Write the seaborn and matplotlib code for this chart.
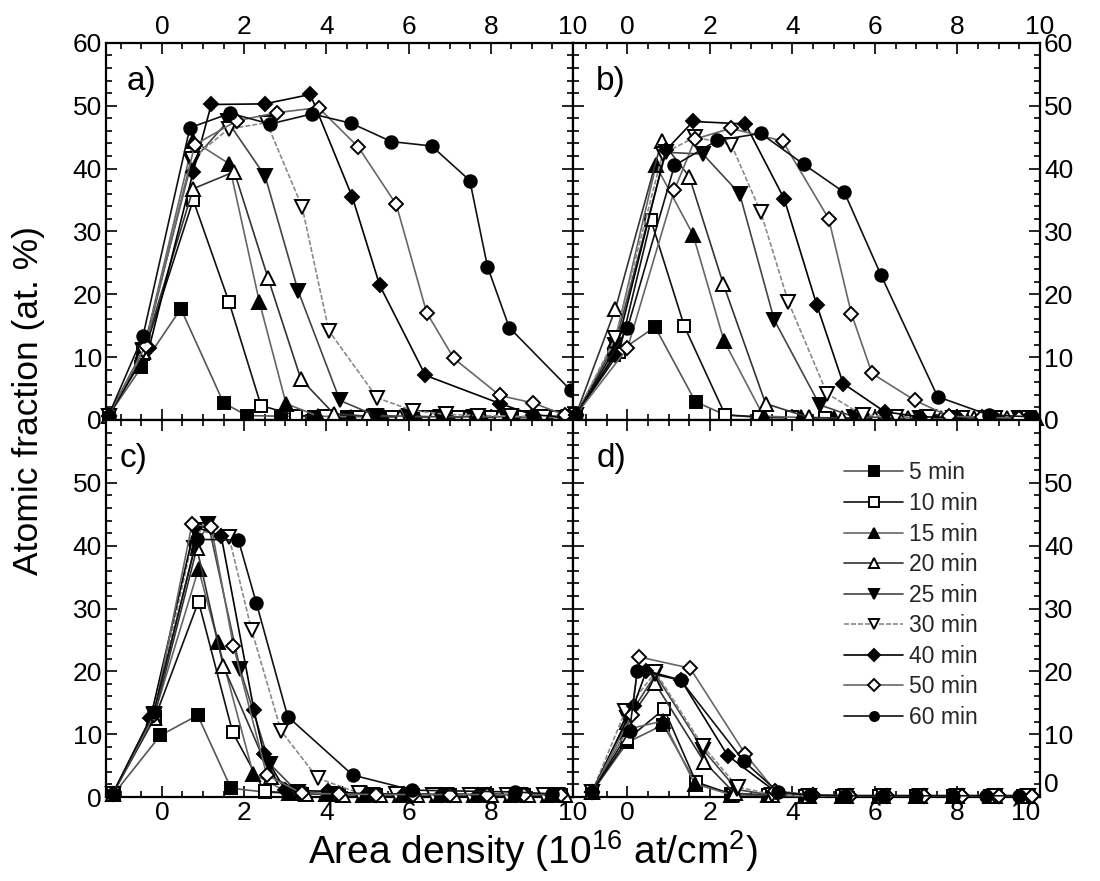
import numpy as np
import pandas as pd
import matplotlib
matplotlib.use("Agg")
import matplotlib.pyplot as plt
from matplotlib import font_manager as fm
from matplotlib.ticker import MultipleLocator
import seaborn as sns

sns.set_theme(style="white")

def pick_font():
    for name in ["Liberation Sans Narrow", "Liberation Sans"]:
        try:
            fm.findfont(fm.FontProperties(family=name), fallback_to_default=False)
            return name
        except Exception:
            pass
    return "DejaVu Sans"

FONT = pick_font()
plt.rcParams["font.family"] = [FONT, "DejaVu Sans"]
plt.rcParams["mathtext.fontset"] = "custom"
plt.rcParams["mathtext.rm"] = FONT

SERIES = ["5 min", "10 min", "15 min", "20 min", "25 min", "30 min", "40 min", "50 min", "60 min"]

# ---------------- data ----------------
PANEL_A = {
    "5 min":  ([-1.3, -0.5, 0.46, 1.5, 2.07, 2.9, 3.7, 4.5, 5.3, 6.1, 6.9, 7.7, 8.5, 9.3, 9.9],
               [0.7, 8.4, 17.7, 2.7, 0.7, 0.6, 0.5, 0.5, 0.4, 0.4, 0.4, 0.4, 0.4, 0.4, 0.4]),
    "10 min": ([-1.3, -0.45, 0.76, 1.63, 2.41, 3.26, 4.0, 4.8, 5.6, 6.4, 7.2, 8.0, 8.8, 9.6],
               [0.7, 10.5, 35.0, 18.8, 2.3, 0.7, 0.6, 0.5, 0.5, 0.5, 0.4, 0.4, 0.4, 0.4]),
    "15 min": ([-1.3, -0.45, 0.76, 1.63, 2.37, 3.02, 3.8, 4.6, 5.4, 6.2, 7.0, 7.8, 8.6, 9.4],
               [0.7, 11.0, 44.4, 40.8, 18.8, 2.6, 0.6, 0.5, 0.5, 0.5, 0.4, 0.4, 0.4, 0.4]),
    "20 min": ([-1.3, -0.45, 0.76, 1.76, 2.58, 3.38, 4.18, 5.0, 5.8, 6.6, 7.4, 8.2, 9.0, 9.8],
               [0.7, 10.8, 36.8, 39.5, 22.6, 6.5, 1.0, 0.6, 0.5, 0.5, 0.5, 0.4, 0.4, 0.4]),
    "25 min": ([-1.3, -0.45, 0.72, 1.6, 2.51, 3.31, 4.33, 5.2, 6.0, 6.8, 7.6, 8.4, 9.2, 9.9],
               [0.7, 11.2, 41.0, 47.5, 38.8, 20.6, 3.1, 0.7, 0.6, 0.5, 0.5, 0.5, 0.4, 0.4]),
    "30 min": ([-1.3, -0.45, 0.72, 1.62, 2.55, 3.41, 4.06, 5.24, 6.1, 6.9, 7.7, 8.5, 9.3, 9.9],
               [0.7, 11.0, 41.5, 46.3, 47.3, 33.9, 14.2, 3.5, 1.5, 0.9, 0.7, 0.6, 0.5, 0.5]),
    "40 min": ([-1.3, -0.31, 0.76, 1.2, 2.5, 3.61, 4.63, 5.3, 6.41, 8.23, 9.03, 9.8],
               [0.7, 11.5, 39.5, 50.2, 50.3, 51.8, 35.5, 21.4, 7.1, 2.6, 0.8, 0.5]),
    "50 min": ([-1.3, -0.4, 0.8, 1.82, 2.8, 3.81, 4.78, 5.7, 6.44, 7.1, 8.22, 9.03, 9.8],
               [0.7, 11.8, 43.8, 47.6, 48.9, 49.7, 43.4, 34.3, 17.1, 9.8, 3.9, 2.7, 0.8]),
    "60 min": ([-1.3, -0.46, 0.68, 1.66, 2.63, 3.65, 4.61, 5.58, 6.56, 7.49, 7.92, 8.45, 9.95],
               [0.7, 13.4, 46.5, 48.8, 47.1, 48.7, 47.2, 44.3, 43.6, 38.1, 24.4, 14.7, 4.7]),
}

PANEL_B = {
    "5 min":  ([-1.25, -0.33, 0.67, 1.65, 2.37, 3.2, 4.0, 4.8, 5.6, 6.4, 7.2, 8.0, 8.8, 9.6],
               [0.8, 10.3, 14.8, 2.9, 0.8, 0.4, 0.3, 0.3, 0.3, 0.3, 0.3, 0.3, 0.3, 0.3]),
    "10 min": ([-1.25, -0.2, 0.57, 1.38, 2.37, 3.2, 4.0, 4.8, 5.6, 6.4, 7.2, 8.0, 8.8, 9.6],
               [0.8, 10.8, 31.8, 14.9, 0.8, 0.5, 0.4, 0.3, 0.3, 0.3, 0.3, 0.3, 0.3, 0.3]),
    "15 min": ([-1.25, -0.3, 0.69, 1.59, 2.34, 3.3, 4.2, 5.0, 5.8, 6.6, 7.4, 8.2, 9.0, 9.8],
               [0.8, 12.6, 40.5, 29.5, 12.6, 0.6, 0.4, 0.3, 0.3, 0.3, 0.3, 0.3, 0.3, 0.3]),
    "20 min": ([-1.25, -0.29, 0.83, 1.5, 2.32, 3.35, 4.4, 5.2, 6.0, 6.8, 7.6, 8.4, 9.2, 9.9],
               [0.8, 17.7, 44.4, 38.7, 21.7, 2.6, 0.4, 0.3, 0.3, 0.3, 0.3, 0.3, 0.3, 0.3]),
    "25 min": ([-1.25, -0.3, 0.93, 1.83, 2.72, 3.56, 4.66, 5.5, 6.3, 7.1, 7.9, 8.7, 9.5],
               [0.8, 12.0, 42.6, 42.3, 36.0, 15.9, 2.4, 0.5, 0.4, 0.3, 0.3, 0.3, 0.3]),
    "30 min": ([-1.25, -0.3, 0.85, 1.63, 2.52, 3.23, 3.9, 4.84, 5.7, 6.5, 7.3, 8.1, 8.9, 9.7],
               [0.8, 13.0, 42.3, 45.0, 43.8, 33.1, 18.8, 4.2, 0.8, 0.5, 0.4, 0.3, 0.3, 0.3]),
    "40 min": ([-1.25, -0.31, 0.93, 1.59, 2.86, 3.8, 4.59, 5.23, 6.24, 7.1, 8.0, 8.9, 9.7],
               [0.8, 10.3, 42.9, 47.5, 47.1, 35.2, 18.3, 5.8, 1.3, 0.5, 0.4, 0.3, 0.3]),
    "50 min": ([-1.25, 0.0, 1.14, 1.64, 2.5, 3.76, 4.88, 5.43, 5.93, 6.97, 7.8, 8.6, 9.5],
               [0.8, 11.4, 36.6, 44.7, 46.4, 44.4, 32.0, 16.9, 7.4, 3.1, 0.6, 0.4, 0.3]),
    "60 min": ([-1.25, 0.0, 1.14, 2.18, 3.23, 4.27, 5.26, 6.15, 7.52, 8.76, 9.8],
               [0.8, 14.6, 40.5, 44.5, 45.6, 40.7, 36.2, 23.0, 3.7, 0.8, 0.5]),
}

PANEL_C = {
    "5 min":  ([-1.17, -0.04, 0.87, 1.68, 2.5, 3.4, 4.3, 5.2, 6.1, 7.0, 7.9, 8.8, 9.7],
               [0.5, 9.8, 13.0, 1.4, 0.8, 0.5, 0.4, 0.4, 0.4, 0.4, 0.4, 0.4, 0.4]),
    "10 min": ([-1.2, -0.16, 0.89, 1.72, 2.5, 3.4, 4.3, 5.2, 6.1, 7.0, 7.9, 8.8, 9.7],
               [0.5, 12.8, 31.1, 10.3, 0.9, 0.5, 0.4, 0.4, 0.4, 0.4, 0.4, 0.4, 0.4]),
    "15 min": ([-1.2, -0.2, 0.89, 1.36, 2.22, 3.1, 4.0, 4.9, 5.8, 6.7, 7.6, 8.5, 9.4],
               [0.5, 12.8, 36.3, 24.7, 3.7, 0.6, 0.5, 0.4, 0.4, 0.4, 0.4, 0.4, 0.4]),
    "20 min": ([-1.2, -0.2, 0.85, 1.49, 2.66, 3.5, 4.4, 5.3, 6.2, 7.1, 8.0, 8.9, 9.8],
               [0.5, 12.5, 39.6, 20.9, 3.2, 0.5, 0.4, 0.4, 0.4, 0.4, 0.4, 0.4, 0.4]),
    "25 min": ([-1.2, -0.2, 0.79, 1.13, 1.9, 2.62, 3.3, 4.2, 5.1, 6.0, 6.9, 7.8, 8.7, 9.6],
               [0.5, 13.0, 39.7, 43.4, 20.4, 5.3, 0.8, 0.5, 0.4, 0.4, 0.4, 0.4, 0.4, 0.4]),
    "30 min": ([-1.2, -0.2, 0.8, 1.63, 2.18, 2.9, 3.79, 4.8, 5.7, 6.6, 7.5, 8.4, 9.3],
               [0.5, 13.2, 42.5, 41.4, 26.6, 10.5, 3.0, 0.6, 0.5, 0.4, 0.4, 0.4, 0.4]),
    "40 min": ([-1.2, -0.28, 0.8, 1.44, 2.24, 2.48, 3.0, 4.03, 5.0, 5.9, 6.8, 7.7, 8.6, 9.5],
               [0.5, 12.5, 43.0, 41.6, 13.8, 6.8, 1.1, 0.9, 0.5, 0.5, 0.4, 0.4, 0.4, 0.4]),
    "50 min": ([-1.2, -0.2, 0.73, 1.2, 1.74, 2.55, 3.4, 4.3, 5.2, 6.1, 7.0, 7.9, 8.8, 9.7],
               [0.5, 13.0, 43.4, 43.0, 24.0, 3.5, 0.6, 0.5, 0.4, 0.4, 0.4, 0.4, 0.4, 0.4]),
    "60 min": ([-1.2, -0.2, 0.85, 1.86, 2.3, 3.06, 4.64, 6.09, 8.6, 9.5],
               [0.5, 13.5, 41.0, 40.9, 30.8, 12.8, 3.5, 1.1, 0.8, 0.5]),
}

PANEL_D = {
    "5 min":  ([-0.86, 0.0, 0.87, 1.66, 2.5, 3.4, 4.3, 5.2, 6.1, 7.0, 7.9, 8.8, 9.6],
               [0.8, 8.7, 11.5, 2.2, 0.5, 0.3, 0.2, 0.2, 0.2, 0.2, 0.2, 0.2, 0.2]),
    "10 min": ([-0.86, 0.0, 0.89, 1.66, 2.55, 3.4, 4.3, 5.2, 6.1, 7.0, 7.9, 8.8, 9.6],
               [0.8, 9.2, 14.0, 2.4, 0.4, 0.3, 0.2, 0.2, 0.2, 0.2, 0.2, 0.2, 0.2]),
    "15 min": ([-0.86, 0.0, 0.87, 1.63, 2.5, 3.4, 4.3, 5.2, 6.1, 7.0, 7.9, 8.8, 9.6],
               [0.8, 10.8, 12.1, 2.1, 0.4, 0.3, 0.2, 0.2, 0.2, 0.2, 0.2, 0.2, 0.2]),
    "20 min": ([-0.86, 0.0, 0.66, 1.86, 2.6, 3.5, 4.4, 5.3, 6.2, 7.1, 8.0, 8.9, 9.7],
               [0.8, 12.0, 18.2, 5.6, 0.6, 0.3, 0.2, 0.2, 0.2, 0.2, 0.2, 0.2, 0.2]),
    "25 min": ([-0.86, 0.0, 0.68, 1.84, 2.65, 3.5, 4.4, 5.3, 6.2, 7.1, 8.0, 8.9, 9.7],
               [0.8, 12.5, 19.5, 7.5, 1.2, 0.3, 0.2, 0.2, 0.2, 0.2, 0.2, 0.2, 0.2]),
    "30 min": ([-0.86, -0.05, 0.68, 1.82, 2.67, 3.5, 4.4, 5.3, 6.2, 7.1, 8.0, 8.9, 9.7],
               [0.8, 13.7, 19.9, 8.2, 1.6, 0.4, 0.2, 0.2, 0.2, 0.2, 0.2, 0.2, 0.2]),
    "40 min": ([-0.86, 0.15, 0.46, 1.3, 2.43, 3.6, 4.5, 5.4, 6.3, 7.2, 8.1, 9.0, 9.8],
               [0.8, 14.5, 20.1, 18.6, 6.6, 0.8, 0.3, 0.2, 0.2, 0.2, 0.2, 0.2, 0.2]),
    "50 min": ([-0.86, 0.1, 0.28, 1.52, 2.85, 3.58, 4.5, 5.4, 6.3, 7.2, 8.1, 9.0, 9.8],
               [0.8, 13.0, 22.3, 20.5, 6.9, 1.0, 0.3, 0.2, 0.2, 0.2, 0.2, 0.2, 0.2]),
    "60 min": ([-0.86, 0.05, 0.24, 1.29, 2.82, 3.65, 4.43, 5.28, 6.2, 7.0, 7.9, 8.7, 9.5],
               [0.8, 10.5, 20.1, 18.6, 5.7, 0.8, 0.3, 0.2, 0.2, 0.2, 0.2, 0.2, 0.2]),
}

X_TICKS = [0, 2, 4, 6, 8, 10]
Y_TICKS_TOP = [0, 10, 20, 30, 40, 50, 60]
Y_TICKS_BOTTOM = [0, 10, 20, 30, 40, 50]

# ---------------- styles ----------------
STYLE = {
    "5 min":  dict(marker="s", mfc="black", color="#555555", ls="-"),
    "10 min": dict(marker="s", mfc="white", color="#111111", ls="-"),
    "15 min": dict(marker="^", mfc="black", color="#666666", ls="-"),
    "20 min": dict(marker="^", mfc="white", color="#333333", ls="-"),
    "25 min": dict(marker="v", mfc="black", color="#444444", ls="-"),
    "30 min": dict(marker="v", mfc="white", color="#8a8a8a", ls=(0, (3, 1.2))),
    "40 min": dict(marker="D", mfc="black", color="#000000", ls="-"),
    "50 min": dict(marker="D", mfc="white", color="#666666", ls="-"),
    "60 min": dict(marker="o", mfc="black", color="#111111", ls="-"),
}
MSIZE = {"s": 8.5, "^": 9.5, "v": 9.5, "D": 7.5, "o": 9}

fig = plt.figure(figsize=(11.0, 8.81), dpi=100)
L0, W = 0.0964, 0.4245
B0, H = 0.0953, 0.428
axes = {
    "a": fig.add_axes([L0, B0 + H, W, H]),
    "b": fig.add_axes([L0 + W, B0 + H, W, H]),
    "c": fig.add_axes([L0, B0, W, H]),
    "d": fig.add_axes([L0 + W, B0, W, H]),
}
panels = {"a": PANEL_A, "b": PANEL_B, "c": PANEL_C, "d": PANEL_D}

for key, ax in axes.items():
    data = panels[key]
    for s in SERIES:
        xs, ys = data[s]
        df = pd.DataFrame({"x": xs, "y": ys})
        st = STYLE[s]
        sns.lineplot(data=df, x="x", y="y", ax=ax, sort=False, estimator=None,
                     color=st["color"], linestyle=st["ls"], linewidth=1.2,
                     marker=st["marker"], markersize=MSIZE[st["marker"]],
                     markerfacecolor=st["mfc"], markeredgecolor="black",
                     markeredgewidth=1.4, label=s, legend=False, clip_on=False,
                     zorder=3)
    right = key in ("b", "d")
    top = key in ("a", "b")
    ax.set_xlim(-1.32 if right else -1.36, 10.0)
    ax.set_ylim(0, 60)
    ax.set_xlabel("")
    ax.set_ylabel("")
    ax.xaxis.set_minor_locator(MultipleLocator(0.5))
    ax.yaxis.set_minor_locator(MultipleLocator(2))
    ax.set_xticks(X_TICKS)
    ax.set_yticks(Y_TICKS_TOP)
    ax.set_xticklabels([str(v) for v in X_TICKS])
    if top:
        ax.set_yticklabels([str(v) for v in Y_TICKS_TOP])
    else:
        ax.set_yticklabels([str(v) for v in Y_TICKS_BOTTOM] + [""])
    ax.tick_params(which="both", direction="in", top=True, bottom=True, left=True, right=True,
                   labeltop=top, labelbottom=not top, labelleft=not right, labelright=right,
                   colors="black", labelsize=19, width=1.2)
    ax.tick_params(which="major", length=8, pad=3)
    ax.tick_params(which="minor", length=4)
    for sp in ax.spines.values():
        sp.set_color("black")
        sp.set_linewidth(1.6)
    ax.set_facecolor("white")
    lx = 0.05 if right else 0.045
    if key == "c":
        lx = 0.03
    ax.text(lx, 0.94, f"{key})", transform=ax.transAxes, fontsize=24, ha="left", va="top",
            color="black")

# the "0" at the bottom-right corner sits just above the corner, clear of the "10" below it
fig.canvas.draw()
axes["d"].get_yticklabels()[0].set_verticalalignment("bottom")
axes["d"].get_xticklabels()[-1].set_horizontalalignment("right")

# legend in panel d
handles, labels = axes["d"].get_legend_handles_labels()
leg = axes["d"].legend(handles, labels, loc="upper left", bbox_to_anchor=(0.58, 0.89),
                       frameon=False, fontsize=16.5, handlelength=2.6, handletextpad=0.25,
                       labelspacing=0.33, borderaxespad=0.0, borderpad=0.0, numpoints=1)
for h in leg.legend_handles:
    h.set_markersize(6.5)

fig.text(0.026, 0.545, "Atomic fraction (at. %)", rotation=90, ha="center", va="center",
         fontsize=25.5, color="black")
fig.text(0.484, 0.034, r"Area density (10$^{16}$ at/cm$^{2}$)", ha="center", va="center",
         fontsize=28, color="black")

fig.savefig("out.png", dpi=100, facecolor="white")
